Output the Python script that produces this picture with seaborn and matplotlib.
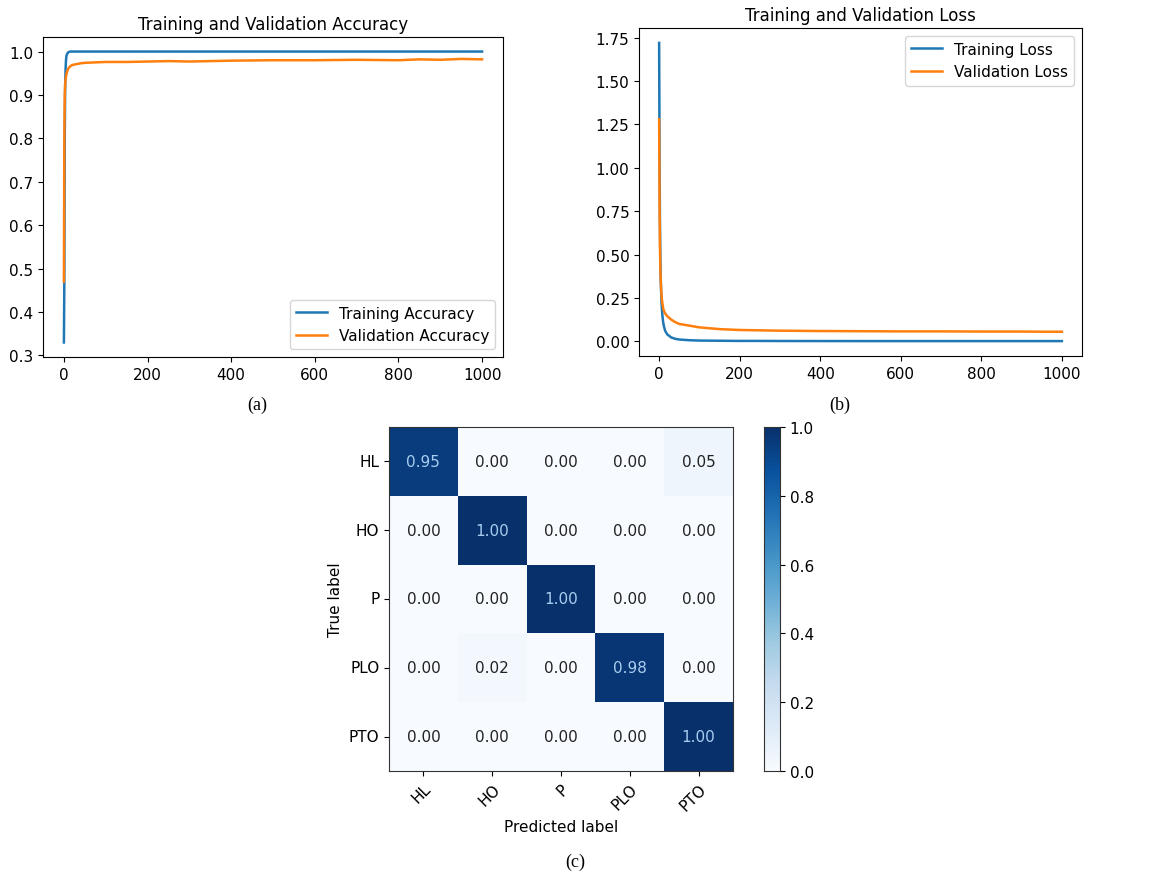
import numpy as np
import pandas as pd
import matplotlib
matplotlib.use("Agg")
import matplotlib.pyplot as plt
import seaborn as sns

# Courbes d'apprentissage (époques clés)
epochs = [0, 1, 2, 3, 4, 5, 6, 8, 10, 12, 15, 20, 30, 40, 50, 75, 100, 150, 200,
          250, 300, 400, 500, 600, 700, 800, 850, 900, 950, 1000]
train_acc = [0.33, 0.47, 0.80, 0.92, 0.96, 0.98, 0.99, 0.995, 0.998, 0.999, 1.0, 1.0, 1.0, 1.0,
             1.0, 1.0, 1.0, 1.0, 1.0, 1.0, 1.0, 1.0, 1.0, 1.0, 1.0, 1.0, 1.0, 1.0, 1.0, 1.0]
val_acc = [0.47, 0.80, 0.90, 0.925, 0.935, 0.942, 0.948, 0.955, 0.96, 0.963, 0.966, 0.969, 0.971,
           0.973, 0.974, 0.975, 0.976, 0.976, 0.977, 0.978, 0.977, 0.979, 0.980, 0.980, 0.981,
           0.980, 0.982, 0.981, 0.983, 0.982]
train_loss = [1.72, 1.10, 0.70, 0.48, 0.36, 0.28, 0.22, 0.15, 0.11, 0.085, 0.06, 0.04, 0.022,
              0.014, 0.010, 0.006, 0.004, 0.003, 0.002, 0.002, 0.0015, 0.0012, 0.001, 0.001,
              0.001, 0.001, 0.001, 0.001, 0.001, 0.001]
val_loss = [1.28, 0.80, 0.55, 0.42, 0.35, 0.30, 0.26, 0.22, 0.19, 0.175, 0.16, 0.145, 0.125,
            0.11, 0.10, 0.09, 0.08, 0.07, 0.065, 0.063, 0.061, 0.059, 0.058, 0.057, 0.057,
            0.056, 0.056, 0.056, 0.055, 0.055]

# Matrice de confusion normalisée
classes = ["HL", "HO", "P", "PLO", "PTO"]
cm = [[0.95, 0.00, 0.00, 0.00, 0.05],
      [0.00, 1.00, 0.00, 0.00, 0.00],
      [0.00, 0.00, 1.00, 0.00, 0.00],
      [0.00, 0.02, 0.00, 0.98, 0.00],
      [0.00, 0.00, 0.00, 0.00, 1.00]]

blue = "#1f77b4"
orange = "#ff7f0e"
W, H = 1151, 878


def box(l, t, r, b):
    # pixels -> fractions de figure
    return [l / W, 1 - b / H, (r - l) / W, (b - t) / H]


fig = plt.figure(figsize=(11.51, 8.78), dpi=100)
plt.rcParams["font.size"] = 11

# (a) Précision
ax1 = fig.add_axes(box(43, 38, 503, 358))
df_acc = pd.DataFrame({"epoch": epochs, "Training Accuracy": train_acc,
                       "Validation Accuracy": val_acc})
sns.lineplot(data=df_acc, x="epoch", y="Training Accuracy", ax=ax1, color=blue,
             lw=1.8, label="Training Accuracy")
sns.lineplot(data=df_acc, x="epoch", y="Validation Accuracy", ax=ax1, color=orange,
             lw=1.8, label="Validation Accuracy")
ax1.set_title("Training and Validation Accuracy", fontsize=12)
ax1.set_xlabel("")
ax1.set_ylabel("")
ax1.set_xticks([0, 200, 400, 600, 800, 1000])
ax1.set_yticks([0.3, 0.4, 0.5, 0.6, 0.7, 0.8, 0.9, 1.0])
ax1.legend(loc="lower right", fontsize=11)

# (b) Perte
ax2 = fig.add_axes(box(639, 29, 1082, 357))
df_loss = pd.DataFrame({"epoch": epochs, "Training Loss": train_loss,
                        "Validation Loss": val_loss})
sns.lineplot(data=df_loss, x="epoch", y="Training Loss", ax=ax2, color=blue,
             lw=1.8, label="Training Loss")
sns.lineplot(data=df_loss, x="epoch", y="Validation Loss", ax=ax2, color=orange,
             lw=1.8, label="Validation Loss")
ax2.set_title("Training and Validation Loss", fontsize=12)
ax2.set_xlabel("")
ax2.set_ylabel("")
ax2.set_xticks([0, 200, 400, 600, 800, 1000])
ax2.set_yticks([0.0, 0.25, 0.5, 0.75, 1.0, 1.25, 1.5, 1.75])
ax2.yaxis.set_major_formatter(matplotlib.ticker.FormatStrFormatter("%.2f"))
ax2.legend(loc="upper right", fontsize=11)

# (c) Matrice de confusion
ax3 = fig.add_axes(box(389, 428, 733, 772))
cax = fig.add_axes(box(764, 428, 780, 772))
cm_arr = np.array(cm)
sns.heatmap(cm_arr, ax=ax3, cbar_ax=cax, cmap="Blues", vmin=0, vmax=1,
            annot=False, xticklabels=classes, yticklabels=classes, square=False)
for i in range(len(classes)):
    for j in range(len(classes)):
        v = cm_arr[i, j]
        ax3.text(j + 0.5, i + 0.5, f"{v:.2f}", ha="center", va="center",
                 fontsize=11, color="#a9cdf0" if v > 0.5 else "#222222")
for sp in ax3.spines.values():
    sp.set_visible(True)
    sp.set_color("#333333")
ax3.set_xlabel("Predicted label", fontsize=11)
ax3.set_ylabel("True label", fontsize=11)
ax3.tick_params(axis="x", rotation=45)
ax3.tick_params(axis="y", rotation=0)
for t in ax3.get_xticklabels():
    t.set_ha("right")
    t.set_rotation_mode("anchor")
cax.set_yticks([0.0, 0.2, 0.4, 0.6, 0.8, 1.0])
cax.tick_params(labelsize=11)
for sp in cax.spines.values():
    sp.set_visible(True)
    sp.set_color("#333333")

# Légendes (a), (b), (c)
for x, y, s in [(257, 405, "(a)"), (840, 405, "(b)"), (575, 862, "(c)")]:
    fig.text(x / W, 1 - y / H, s, ha="center", va="center",
             family="Liberation Serif", fontsize=13)

fig.savefig("out.png", dpi=100)
